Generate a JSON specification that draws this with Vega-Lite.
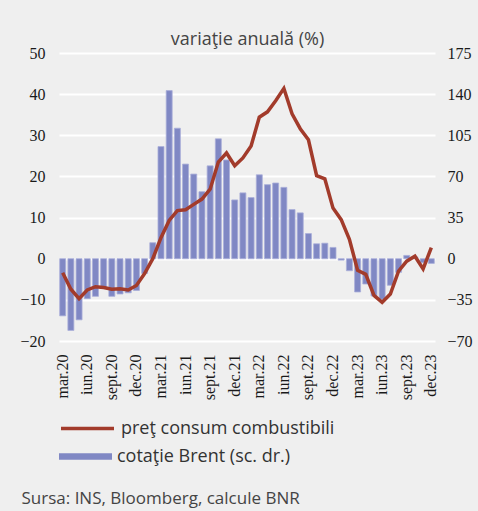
{
  "$schema": "https://vega.github.io/schema/vega-lite/v6.json",
  "width": 376,
  "height": 288,
  "autosize": {"type": "none"},
  "padding": {"left": 59, "top": 53, "right": 43, "bottom": 170},
  "background": "#efefef",
  "config": {
    "view": {"stroke": null},
    "axis": {"labelFont": "Liberation Sans Narrow", "labelFontSize": 16, "labelColor": "#1a1a1a", "titleFont": "Open Sans", "titleFontWeight": "normal", "titleFontSize": 17, "titleColor": "#444444"},
    "legend": {"labelFont": "Open Sans", "labelFontSize": 18, "labelColor": "#333333", "padding": 0, "labelLimit": 0}
  },
  "data": {"values": [
    {"m": "mar.20", "brent": -48.6, "fuel": -3.4},
    {"m": "apr.20", "brent": -61, "fuel": -7.4},
    {"m": "mai.20", "brent": -52, "fuel": -9.7},
    {"m": "iun.20", "brent": -34, "fuel": -7.6},
    {"m": "iul.20", "brent": -32, "fuel": -6.8},
    {"m": "aug.20", "brent": -24.5, "fuel": -7.0},
    {"m": "sept.20", "brent": -32, "fuel": -7.4},
    {"m": "oct.20", "brent": -30, "fuel": -7.3},
    {"m": "nov.20", "brent": -29, "fuel": -7.6},
    {"m": "dec.20", "brent": -27, "fuel": -6.5},
    {"m": "ian.21", "brent": -12.5, "fuel": -3.6},
    {"m": "feb.21", "brent": 13.6, "fuel": 0},
    {"m": "mar.21", "brent": 95.4, "fuel": 5.1},
    {"m": "apr.21", "brent": 143, "fuel": 9.3},
    {"m": "mai.21", "brent": 111, "fuel": 11.7},
    {"m": "iun.21", "brent": 80.5, "fuel": 11.9},
    {"m": "iul.21", "brent": 72, "fuel": 13.2},
    {"m": "aug.21", "brent": 57, "fuel": 14.5},
    {"m": "sept.21", "brent": 79, "fuel": 16.9},
    {"m": "oct.21", "brent": 102, "fuel": 23.5},
    {"m": "nov.21", "brent": 84, "fuel": 25.7},
    {"m": "dec.21", "brent": 50, "fuel": 22.6},
    {"m": "ian.22", "brent": 56, "fuel": 24.5},
    {"m": "feb.22", "brent": 52, "fuel": 27.4},
    {"m": "mar.22", "brent": 71.4, "fuel": 34.4},
    {"m": "apr.22", "brent": 63, "fuel": 35.7},
    {"m": "mai.22", "brent": 64.4, "fuel": 38.4},
    {"m": "iun.22", "brent": 60.7, "fuel": 41.4},
    {"m": "iul.22", "brent": 41.8, "fuel": 35.2},
    {"m": "aug.22", "brent": 39, "fuel": 31.6},
    {"m": "sept.22", "brent": 21.4, "fuel": 28.9},
    {"m": "oct.22", "brent": 12.7, "fuel": 20.2},
    {"m": "nov.22", "brent": 13.2, "fuel": 19.4},
    {"m": "dec.22", "brent": 9.6, "fuel": 12.3},
    {"m": "ian.23", "brent": -1.2, "fuel": 9.5},
    {"m": "feb.23", "brent": -10.2, "fuel": 4.7},
    {"m": "mar.23", "brent": -28.3, "fuel": -2.8},
    {"m": "apr.23", "brent": -21.5, "fuel": -3.8},
    {"m": "mai.23", "brent": -31.7, "fuel": -8.9},
    {"m": "iun.23", "brent": -34.5, "fuel": -10.6},
    {"m": "iul.23", "brent": -22.6, "fuel": -8.6},
    {"m": "aug.23", "brent": -11.6, "fuel": -3.0},
    {"m": "sept.23", "brent": 2.8, "fuel": -0.6},
    {"m": "oct.23", "brent": 1.5, "fuel": 0.6},
    {"m": "nov.23", "brent": -3.4, "fuel": -2.5},
    {"m": "dec.23", "brent": -4, "fuel": 2.7}
  ]},
  "encoding": {
    "x": {
      "field": "m", "type": "ordinal", "sort": null,
      "scale": {"paddingInner": 0.27, "paddingOuter": 0.085},
      "axis": {
        "values": ["mar.20", "iun.20", "sept.20", "dec.20", "mar.21", "iun.21", "sept.21", "dec.21", "mar.22", "iun.22", "sept.22", "dec.22", "mar.23", "iun.23", "sept.23", "dec.23"],
        "labelAngle": -90, "labelPadding": 13, "ticks": false, "domain": false, "grid": false,
        "title": "Sursa: INS, Bloomberg, calcule BNR",
        "titleX": -38, "titleY": 157, "titleAlign": "left", "titleBaseline": "middle", "titleAngle": 0
      }
    }
  },
  "layer": [
    {
      "mark": {"type": "bar", "stroke": "#a9aed9", "strokeWidth": 0.8},
      "encoding": {
        "y": {
          "field": "brent", "type": "quantitative",
          "scale": {"domain": [-70, 175], "nice": false, "zero": false},
          "axis": {"orient": "right", "values": [-70, -35, 0, 35, 70, 105, 140, 175], "grid": false, "ticks": false, "domain": false, "labelPadding": 12, "title": null}
        },
        "fill": {
          "datum": "cotaţie Brent (sc. dr.)",
          "scale": {"range": ["#8088c4"]},
          "legend": {"orient": "none", "legendX": 0, "legendY": 377, "title": null, "symbolType": "M-1,-0.12H1V0.12H-1Z", "symbolSize": 2809, "symbolStrokeWidth": 0, "labelOffset": 5}
        }
      }
    },
    {
      "mark": {"type": "line", "strokeWidth": 3.5},
      "encoding": {
        "y": {
          "field": "fuel", "type": "quantitative",
          "scale": {"domain": [-20, 50], "nice": false, "zero": false},
          "axis": {
            "orient": "left", "values": [-20, -10, 0, 10, 20, 30, 40, 50], "grid": true, "gridColor": "#ffffff", "gridWidth": 2, "gridOpacity": 1,
            "ticks": false, "domain": false, "labelPadding": 14,
            "title": "variaţie anuală (%)", "titleFontSize": 18, "titleAngle": 0, "titleX": 188, "titleY": -14, "titleAlign": "center", "titleBaseline": "middle"
          }
        },
        "stroke": {
          "datum": "preţ consum combustibili",
          "scale": {"range": ["#a23b2b"]},
          "legend": {"orient": "none", "legendX": 0, "legendY": 347, "title": null, "symbolType": "stroke", "symbolSize": 2809, "symbolStrokeWidth": 3.5, "labelOffset": 5}
        }
      }
    }
  ],
  "resolve": {"scale": {"y": "independent"}}
}
